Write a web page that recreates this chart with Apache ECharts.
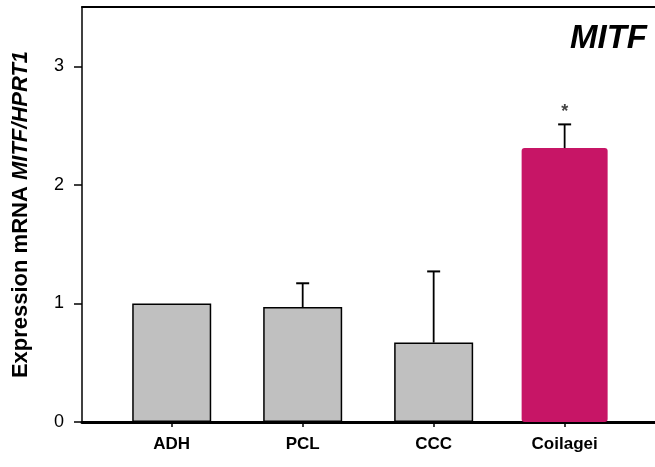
<!DOCTYPE html>
<html>
<head>
<meta charset="utf-8">
<script src="https://cdn.jsdelivr.net/npm/echarts@6/dist/echarts.min.js"></script>
<style>
  html, body { margin: 0; padding: 0; background: #fff; }
  #chart { width: 655px; height: 467px; }
</style>
</head>
<body>
<div id="chart"></div>
<script>
// Group labels, mean expression and upper SEM
const categories = ['ADH', 'PCL', 'CCC', 'Coilagei'];
const means = [1.00, 0.97, 0.67, 2.31];
const errors = [0, 0.20, 0.60, 0.20];
const significance = ['', '', '', '*'];
const yTicks = [0, 1, 2, 3];

// Groups sit at x = 1..n on a numeric axis
const positions = categories.map((_, i) => i + 1);
const highlightIndex = 3;

const FONT = '"Liberation Sans", Arial, Helvetica, sans-serif';

const greyData = [];
const pinkData = [];
positions.forEach((x, i) => {
  if (i === highlightIndex) pinkData.push([x, means[i]]);
  else greyData.push([x, means[i]]);
});
const errData = positions.map((x, i) => [x, means[i], errors[i], i]);

// the frame is open on the right: the axis range simply ends at the page edge
const xRange = { min: 0.315, max: 4.69 };

const chart = echarts.init(document.getElementById('chart'), null, { renderer: 'canvas' });

chart.setOption({
  animation: false,
  backgroundColor: '#ffffff',
  title: {
    text: 'MITF',
    right: 8,
    top: 22,
    padding: 0,
    textStyle: {
      fontFamily: FONT,
      fontSize: 33,
      fontWeight: 'bold',
      fontStyle: 'italic',
      color: '#000'
    }
  },
  grid: { left: 82, right: 0, top: 7, bottom: 45 },
  xAxis: [
    {
      type: 'value',
      min: xRange.min,
      max: xRange.max,
      splitLine: { show: false },
      axisLine: { show: true, onZero: false, lineStyle: { color: '#000', width: 3 } },
      axisTick: {
        show: true,
        length: 5,
        lineStyle: { color: '#000', width: 1.5 },
        customValues: positions
      },
      axisLabel: {
        customValues: positions,
        margin: 14,
        fontFamily: FONT,
        fontSize: 17,
        fontWeight: 'bold',
        color: '#000',
        formatter: v => categories[Math.round(v) - 1] || ''
      }
    },
    {
      type: 'value',
      position: 'top',
      min: xRange.min,
      max: xRange.max,
      splitLine: { show: false },
      axisLine: { show: true, onZero: false, lineStyle: { color: '#000', width: 2 } },
      axisTick: { show: false },
      axisLabel: { show: false }
    }
  ],
  yAxis: {
    type: 'value',
    min: 0,
    max: 3.5,
    splitLine: { show: false },
    axisLine: { show: true, lineStyle: { color: '#000', width: 1.5 } },
    axisTick: {
      show: true,
      length: 8,
      lineStyle: { color: '#000', width: 1.5 },
      customValues: yTicks
    },
    axisLabel: {
      customValues: yTicks,
      margin: 18,
      fontFamily: FONT,
      fontSize: 18,
      color: '#000'
    },
    name: '{n|Expression mRNA }{i|MITF/HPRT1}',
    nameLocation: 'middle',
    nameGap: 50,
    nameRotate: 90,
    nameTextStyle: {
      rich: {
        n: { fontFamily: FONT, fontSize: 22, fontWeight: 'bold', color: '#000' },
        i: { fontFamily: FONT, fontSize: 22, fontWeight: 'bold', fontStyle: 'italic', color: '#000' }
      }
    }
  },
  series: [
    {
      type: 'bar',
      xAxisIndex: 0,
      data: greyData,
      barWidth: 79,
      itemStyle: { color: '#c0c0c0', borderColor: '#000', borderWidth: 1.5 }
    },
    {
      type: 'bar',
      xAxisIndex: 1,
      data: pinkData,
      barWidth: 86,
      itemStyle: { color: '#c71566', borderRadius: [3, 3, 3, 3] }
    },
    {
      type: 'custom',
      xAxisIndex: 0,
      data: errData,
      z: 5,
      renderItem: function (params, api) {
        const x = api.value(0);
        const m = api.value(1);
        const e = api.value(2);
        const idx = api.value(3);
        if (!(e > 0)) return null;
        const base = api.coord([x, m]);
        const top = api.coord([x, m + e]);
        const cap = 6.5;
        const children = [
          {
            type: 'line',
            shape: { x1: base[0], y1: base[1], x2: top[0], y2: top[1] },
            style: { stroke: '#000', lineWidth: 1.8 }
          },
          {
            type: 'line',
            shape: { x1: top[0] - cap, y1: top[1], x2: top[0] + cap, y2: top[1] },
            style: { stroke: '#000', lineWidth: 2 }
          }
        ];
        const mark = significance[idx];
        if (mark) {
          children.push({
            type: 'text',
            style: {
              text: mark,
              x: top[0],
              y: top[1] - 3,
              align: 'center',
              verticalAlign: 'bottom',
              fontFamily: FONT,
              fontSize: 18,
              fontWeight: 'bold',
              fill: '#444'
            }
          });
        }
        return { type: 'group', children: children };
      }
    }
  ]
});
</script>
</body>
</html>
